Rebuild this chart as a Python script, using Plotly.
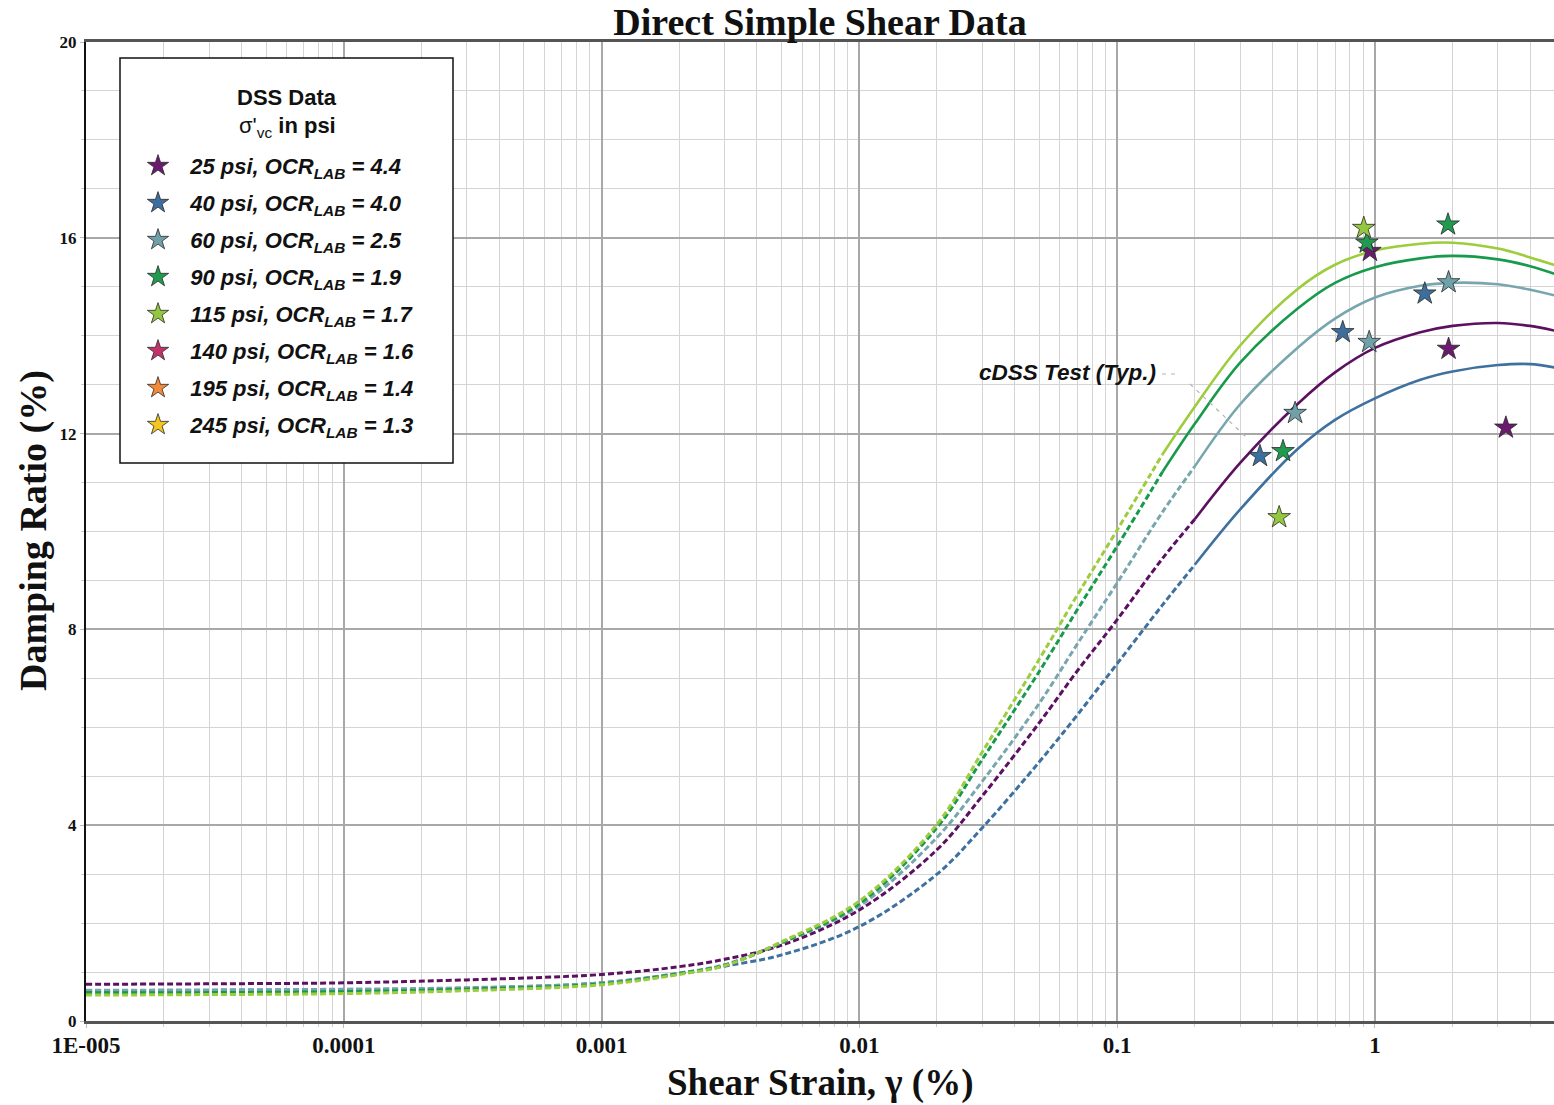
import plotly.graph_objects as go

# ---- curve data: damping ratio (%) vs shear strain (%) ----
STRAIN = [1e-5, 3e-5, 1e-4, 3e-4, 1e-3, 2e-3, 3e-3, 5e-3, 0.01, 0.02, 0.03, 0.05,
          0.07, 0.1, 0.15, 0.2, 0.3, 0.5, 0.7, 1, 1.5, 2, 3, 4, 5]

D_25 = [0.75, 0.76, 0.78, 0.84, 0.95, 1.11, 1.26, 1.55, 2.27, 3.5, 4.6, 6.1,
        7.15, 8.2, 9.45, 10.25, 11.4, 12.6, 13.25, 13.75, 14.07, 14.2, 14.26, 14.2, 14.1]
D_40 = [0.62, 0.63, 0.64, 0.67, 0.78, 0.97, 1.12, 1.35, 1.93, 3.0, 3.95, 5.3,
        6.25, 7.3, 8.5, 9.32, 10.45, 11.68, 12.28, 12.72, 13.1, 13.27, 13.4, 13.42, 13.35]
D_60 = [0.63, 0.63, 0.65, 0.68, 0.78, 0.98, 1.15, 1.6, 2.35, 3.75, 4.9, 6.5,
        7.7, 8.95, 10.4, 11.33, 12.6, 13.75, 14.35, 14.78, 15.02, 15.08, 15.05, 14.94, 14.82]
D_90 = [0.58, 0.58, 0.6, 0.65, 0.76, 0.97, 1.14, 1.6, 2.4, 3.95, 5.35, 7.15,
        8.4, 9.7, 11.22, 12.2, 13.45, 14.55, 15.08, 15.4, 15.58, 15.63, 15.56, 15.42, 15.26]
D_115 = [0.53, 0.54, 0.56, 0.62, 0.74, 0.95, 1.13, 1.62, 2.45, 4.02, 5.5, 7.4,
         8.7, 10.03, 11.58, 12.55, 13.8, 14.95, 15.45, 15.74, 15.88, 15.9, 15.78, 15.6, 15.44]

# strain where each fitted curve changes from dashed (extrapolated) to solid
SPLIT = [0.2, 0.2, 0.2, 0.15, 0.15]

# ---- cyclic DSS test points ----
PT_25_X, PT_25_Y = [0.956, 1.93, 3.22], [15.73, 13.73, 12.12]
PT_40_X, PT_40_Y = [0.358, 0.75, 1.56], [11.54, 14.07, 14.86]
PT_60_X, PT_60_Y = [0.49, 0.95, 1.93], [12.42, 13.87, 15.09]
PT_90_X, PT_90_Y = [0.44, 0.93, 1.92], [11.64, 15.9, 16.27]
PT_115_X, PT_115_Y = [0.425, 0.905], [10.29, 16.2]

LABELS = ["25 psi, OCR<sub>LAB</sub> = 4.4", "40 psi, OCR<sub>LAB</sub> = 4.0",
          "60 psi, OCR<sub>LAB</sub> = 2.5", "90 psi, OCR<sub>LAB</sub> = 1.9",
          "115 psi, OCR<sub>LAB</sub> = 1.7", "140 psi, OCR<sub>LAB</sub> = 1.6",
          "195 psi, OCR<sub>LAB</sub> = 1.4", "245 psi, OCR<sub>LAB</sub> = 1.3"]
STAR_COLORS = ["#6b1b6e", "#3d6f9e", "#70a0a8", "#1f9a4e", "#93c83e",
               "#c2336b", "#f28a3a", "#f3c71e"]
LINE_COLORS = ["#5c1060", "#3f71a0", "#78a6ae", "#179a4b", "#9dcc3c"]

X_TICKS = [1e-5, 1e-4, 1e-3, 1e-2, 1e-1, 1]
X_TICKTEXT = ["1E-005", "0.0001", "0.001", "0.01", "0.1", "1"]
Y_TICKS = [0, 4, 8, 12, 16, 20]

curves = [D_25, D_40, D_60, D_90, D_115]
points = [(PT_25_X, PT_25_Y), (PT_40_X, PT_40_Y), (PT_60_X, PT_60_Y),
          (PT_90_X, PT_90_Y), (PT_115_X, PT_115_Y)]

W, H = 1554, 1105
ML, MR, MT, MB = 86, 0, 42, 84
PW, PH = W - ML - MR, H - MT - MB


def px(x):
    return (x - ML) / PW


def py(y):
    return (H - MB - y) / PH


fig = go.Figure()

# fitted curves: dashed below the split strain, solid above it
for d, split, col in zip(curves, SPLIT, LINE_COLORS):
    xs_d = [s for s in STRAIN if s <= split]
    ys_d = [v for s, v in zip(STRAIN, d) if s <= split]
    xs_s = [s for s in STRAIN if s >= split]
    ys_s = [v for s, v in zip(STRAIN, d) if s >= split]
    fig.add_trace(go.Scatter(x=xs_d, y=ys_d, mode="lines", showlegend=False,
                             line=dict(color=col, width=3, dash="6px,3px",
                                       shape="spline", smoothing=1.0),
                             hoverinfo="skip"))
    fig.add_trace(go.Scatter(x=xs_s, y=ys_s, mode="lines", showlegend=False,
                             line=dict(color=col, width=2.6, shape="spline", smoothing=1.0),
                             hoverinfo="skip"))

# test points (stars) + legend entries
for i, (label, col) in enumerate(zip(LABELS, STAR_COLORS)):
    if i < len(points):
        xs, ys = points[i]
    else:
        xs, ys = [None], [None]
    fig.add_trace(go.Scatter(
        x=xs, y=ys, mode="markers", name="\u00a0\u00a0<b><i>" + label + "</i></b>",
        legendgroup=f"g{i}",
        marker=dict(symbol="star", size=17, color=col,
                    line=dict(color="#2a2a2a", width=0.8)),
    ))

minor_x = [m * 10.0 ** e for e in range(-5, 1) for m in range(2, 10)]

fig.update_xaxes(
    type="log", range=[-5, 0.6945],
    tickmode="array", tickvals=X_TICKS, ticktext=X_TICKTEXT,
    tickfont=dict(family="Liberation Serif", size=23, color="#111", weight="bold"),
    ticks="outside", ticklen=4, tickcolor="#bbbbbb", ticklabelstandoff=-3,
    showgrid=True, gridcolor="#a8a8a8", gridwidth=1.5,
    minor=dict(tickmode="array", tickvals=minor_x, showgrid=True,
               gridcolor="#d4d4d4", gridwidth=1, ticks="outside", ticklen=3,
               tickcolor="#cccccc"),
    showline=True, linecolor="#555555", linewidth=3, mirror=True,
    zeroline=False,
)
fig.update_yaxes(
    range=[0, 20], tickmode="array", tickvals=Y_TICKS,
    tickfont=dict(family="Liberation Serif", size=17, color="#111", weight="bold"),
    ticks="outside", ticklen=4, tickcolor="#bbbbbb",
    showgrid=True, gridcolor="#a8a8a8", gridwidth=1.5,
    minor=dict(dtick=1, showgrid=True, gridcolor="#d4d4d4", gridwidth=1,
               ticks="outside", ticklen=3, tickcolor="#cccccc"),
    showline=True, linecolor="#111111", linewidth=2, mirror=False,
    zeroline=False,
)

# legend frame
fig.add_shape(type="rect", xref="paper", yref="paper",
              x0=px(120), x1=px(453), y0=py(463), y1=py(58),
              fillcolor="white", line=dict(color="#111", width=1.5), layer="above")

# faint leader for the test annotation
fig.add_shape(type="path", xref="paper", yref="paper",
              path=f"M {px(1162)} {py(374)} L {px(1176)} {py(374)} M {px(1190)} {py(384)} L {px(1246)} {py(437)}",
              line=dict(color="#b5b5b5", width=1.2, dash="4px,5px"), layer="above")

annos = [
    dict(text="<b>DSS Data</b>", x=px(287), y=py(97),
         font=dict(family="Liberation Sans", size=22, color="#111")),
    dict(text="σ'<sub>vc</sub><b> in psi</b>", x=px(287), y=py(127),
         font=dict(family="Liberation Sans", size=22, color="#111")),
    dict(text="<b><i>cDSS Test (Typ.)</i></b>", x=px(977), y=py(372), xanchor="left",
         font=dict(family="Liberation Sans", size=22.5, color="#111")),
    dict(text="<b>Shear Strain, γ (%)</b>", x=0.5, y=py(1083),
         font=dict(family="Liberation Serif", size=37, color="#111")),
    dict(text="<b>Damping Ratio (%)</b>", x=px(33), y=py(531), textangle=-90,
         font=dict(family="Liberation Serif", size=38, color="#111")),
]
for a in annos:
    a.setdefault("xanchor", "center")
    fig.add_annotation(xref="paper", yref="paper", yanchor="middle", showarrow=False, **a)

fig.update_layout(
    width=W, height=H,
    margin=dict(l=ML, r=MR, t=MT, b=MB),
    paper_bgcolor="white", plot_bgcolor="white",
    title=dict(text="<b>Direct Simple Shear Data</b>", x=0.5, xref="paper",
               y=1 - 22 / H, yref="container", yanchor="middle",
               font=dict(family="Liberation Serif", size=38, color="#111")),
    legend=dict(x=px(138), y=py(145), xanchor="left", yanchor="top",
                bgcolor="rgba(0,0,0,0)", borderwidth=0,
                font=dict(family="Liberation Sans", size=22, color="#111"),
                tracegroupgap=5.4, itemwidth=30),
    showlegend=True,
)

fig.write_html("out.html")
